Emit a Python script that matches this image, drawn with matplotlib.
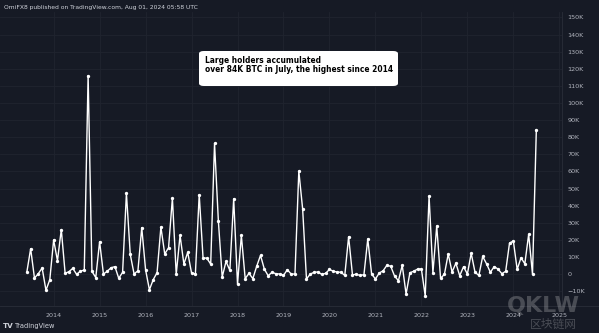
import matplotlib.pyplot as plt
from matplotlib.patches import FancyBboxPatch

# monthly net flow into large holder addresses, BTC (thousands), Jun 2013 .. Jul 2024
start_year, start_month = 2013, 6
flows = [
    1.0, 14.8, -2.4, 0.2, 3.5, -9.5, -3.3,                                  # 2013
    19.9, 7.8, 26.0, 0.4, 1.4, 3.3, -0.2, 1.7, 2.3, 116.0, 1.6, -2.1,        # 2014
    18.9, 0.0, 1.6, 3.7, 4.3, -2.5, 1.0, 47.2, 11.5, 0.0, 1.9, 27.1,        # 2015
    2.5, -9.2, -3.3, 0.8, 27.5, 11.7, 15.4, 44.4, -0.2, 22.6, 5.8, 12.7,    # 2016
    0.6, 0.0, 46.4, 9.5, 9.2, 5.8, 76.4, 31.0, -1.8, 7.4, 2.1, 44.0,        # 2017
    -6.0, 22.6, -2.7, 0.4, -2.7, 4.5, 10.9, 2.9, -1.0, 1.0, 0.2, 0.0,       # 2018
    -0.8, 2.5, 0.0, 0.0, 60.2, 38.0, -2.9, 0.0, 1.0, 1.2, -0.2, 0.4,        # 2019
    2.7, 1.6, 1.2, 1.0, -0.8, 21.8, -0.4, -0.2, -0.8, -0.4, 20.5, 0.0,      # 2020
    -2.9, 0.6, 1.9, 5.1, 4.5, -1.2, -3.9, 5.1, -11.7, 0.8, 1.6, 2.9,        # 2021
    2.9, -12.9, 45.6, 0.6, 28.1, -2.5, -0.2, 11.7, 1.2, 6.3, -1.0, 4.3,     # 2022
    0.0, 12.1, 1.0, -0.8, 10.3, 6.0, 1.0, 4.3, 2.9, 0.2, 1.6, 18.1,         # 2023
    19.3, 2.7, 9.5, 6.0, 23.2, -0.2, 84.4,                                  # 2024
]
years = list(range(2014, 2026))

# x position = months since Jan 2014
first = (start_year - 2014) * 12 + (start_month - 1)
xs = [first + i for i in range(len(flows))]

bg = '#161a25'
grid_c = '#20242f'
txt_c = '#b2b5be'

fig = plt.figure(figsize=(5.99, 3.33), dpi=100, facecolor=bg)
W, H = 599, 333
ax = fig.add_axes([0, (H - 306) / H, 562 / W, (306 - 12) / H], facecolor=bg)

ax.plot(xs, flows, color='white', linewidth=1.0, marker='o', markersize=2.4,
        markeredgewidth=0, zorder=3)

ax.set_xlim(-14.0, 132.7)
ax.set_ylim(-18.7, 153.2)

ax.set_xticks([(y - 2014) * 12 for y in years])
ax.set_xticklabels([str(y) for y in years])
yt = list(range(-10, 151, 10))
ax.set_yticks(yt)
ax.set_yticklabels([('\u221210K' if v < 0 else ('0' if v == 0 else '%dK' % v)) for v in yt])
ax.yaxis.tick_right()
ax.tick_params(axis='both', length=0, labelsize=4.6, colors=txt_c)
ax.tick_params(axis='x', pad=5)
ax.tick_params(axis='y', pad=4)
for lbl in ax.get_yticklabels():
    lbl.set_horizontalalignment('left')

ax.grid(True, color=grid_c, linewidth=0.6)
ax.set_axisbelow(True)
for side in ['top', 'left', 'bottom']:
    ax.spines[side].set_visible(False)
ax.spines['right'].set_color('#2a2e39')
ax.spines['right'].set_linewidth(0.6)

# separator above the time scale
fig.add_artist(plt.Line2D([0, 1], [(H - 306) / H] * 2, color='#2a2e39', linewidth=0.6))

# headline box
box = FancyBboxPatch((199 / W, (H - 86) / H), 199 / W, 35 / H,
                     boxstyle='round,pad=0,rounding_size=0.008',
                     transform=fig.transFigure, facecolor='white', edgecolor='none', zorder=5)
fig.add_artist(box)
fig.text(205 / W, (H - 65) / H,
         'Large holders accumulated\nover 84K BTC in July, the highest since 2014',
         fontsize=5.45, fontweight='bold', color='black', linespacing=1.0,
         va='center', ha='left', zorder=6)

fig.text(4 / W, (H - 7) / H, 'OmiFX8 published on TradingView.com, Aug 01, 2024 05:58 UTC',
         fontsize=4.3, color='#d1d4dc', va='center', ha='left')
fig.text(3 / W, (H - 326) / H, 'TV', fontsize=5.2, fontweight='bold',
         color='#d1d4dc', va='center', ha='left')
fig.text(15 / W, (H - 326) / H, 'TradingView', fontsize=4.8, color='#d1d4dc',
         va='center', ha='left')

# site watermark, bottom right
fig.text(543 / W, (H - 306) / H, 'QKLW', fontsize=16, fontweight='bold', color='white',
         alpha=0.22, va='center', ha='center', zorder=7)
fig.text(553 / W, (H - 324) / H, '区块链网', fontsize=8.5,
         family=['Noto Sans CJK SC', 'DejaVu Sans'], color='white', alpha=0.22,
         va='center', ha='center', zorder=7)

fig.savefig('out.png', dpi=100, facecolor=bg)
